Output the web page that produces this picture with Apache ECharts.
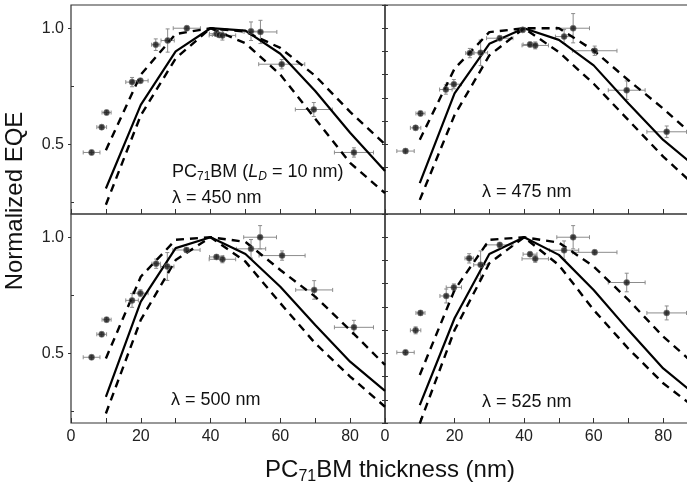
<!DOCTYPE html>
<html><head><meta charset="utf-8">
<script src="https://cdn.jsdelivr.net/npm/echarts@6/dist/echarts.min.js"></script>
<style>html,body{margin:0;padding:0;background:#fff}#c{width:687px;height:487px}</style>
</head><body><div id="c"></div>
<script>
// ---- data ----
const modelX = [10, 20, 30, 40, 50, 60, 70, 80, 90];
const yLabelValues = [0.5, 1.0];
const yMinorValues = [0.25, 0.75];

// lambda = 450 nm
const x450  = [5.9, 8.8, 10.2, 17.5, 19.9, 24.3, 27.7, 33.2, 41.7, 42.5, 43.4, 51.6, 54.3, 60.4, 69.6, 81.1];
const y450  = [0.465, 0.574, 0.637, 0.768, 0.774, 0.929, 0.947, 1.0, 0.976, 0.971, 0.969, 0.987, 0.984, 0.845, 0.650, 0.465];
const xe450 = [2.4, 1.4, 1.3, 1.8, 2.2, 1.2, 1.9, 3.9, 2.0, 2.0, 3.8, 2.5, 4.7, 6.6, 5.3, 5.6];
const ye450 = [0.01, 0.01, 0.01, 0.02, 0.01, 0.025, 0.05, 0.01, 0.01, 0.01, 0.02, 0.04, 0.05, 0.02, 0.03, 0.02];
const solid450 = [0.31, 0.67, 0.90, 1.0, 0.99, 0.89, 0.73, 0.55, 0.385];
const upper450 = [0.475, 0.80, 0.975, 1.0, 0.985, 0.915, 0.795, 0.64, 0.50];
const lower450 = [0.24, 0.625, 0.87, 1.0, 0.935, 0.80, 0.61, 0.42, 0.29];

// lambda = 475 nm
const x475  = [5.9, 8.8, 10.2, 17.5, 19.8, 24.4, 27.5, 33.0, 39.6, 41.7, 43.2, 51.5, 54.1, 60.3, 69.5, 81.0];
const y475  = [0.471, 0.571, 0.633, 0.736, 0.759, 0.893, 0.894, 0.957, 0.993, 0.930, 0.926, 0.964, 1.0, 0.903, 0.733, 0.554];
const xe475 = [2.5, 1.5, 1.3, 1.8, 2.2, 1.2, 2.0, 3.8, 2.0, 2.0, 3.8, 2.5, 4.7, 6.4, 5.3, 5.7];
const ye475 = [0.01, 0.01, 0.01, 0.02, 0.02, 0.02, 0.055, 0.01, 0.01, 0.01, 0.015, 0.03, 0.063, 0.02, 0.04, 0.025];
const solid475 = [0.333, 0.719, 0.933, 1.0, 0.95, 0.84, 0.676, 0.519, 0.395];
const upper475 = [0.52, 0.826, 0.983, 1.0, 1.0, 0.904, 0.776, 0.654, 0.52];
const lower475 = [0.261, 0.626, 0.883, 1.0, 0.897, 0.761, 0.604, 0.447, 0.31];

// lambda = 500 nm
const x500  = [5.9, 8.8, 10.2, 17.5, 19.9, 24.4, 27.6, 33.1, 41.7, 43.4, 51.6, 54.2, 60.5, 69.7, 81.1];
const y500  = [0.483, 0.582, 0.645, 0.728, 0.759, 0.886, 0.874, 0.945, 0.915, 0.905, 0.950, 1.0, 0.921, 0.773, 0.612];
const xe500 = [2.4, 1.4, 1.3, 1.8, 2.2, 1.2, 1.9, 3.9, 2.0, 3.8, 4.2, 4.7, 6.6, 5.3, 5.6];
const ye500 = [0.01, 0.01, 0.01, 0.03, 0.015, 0.02, 0.06, 0.01, 0.01, 0.015, 0.04, 0.05, 0.02, 0.04, 0.03];
const solid500 = [0.313, 0.723, 0.953, 1.0, 0.928, 0.787, 0.622, 0.464, 0.338];
const upper500 = [0.478, 0.83, 0.989, 1.0, 0.98, 0.859, 0.744, 0.60, 0.45];
const lower500 = [0.241, 0.644, 0.902, 1.0, 0.895, 0.716, 0.543, 0.40, 0.27];

// lambda = 525 nm
const x525  = [5.9, 8.8, 10.2, 17.6, 19.8, 24.2, 27.5, 33.0, 41.7, 43.2, 51.5, 54.1, 60.3, 69.5, 81.0];
const y525  = [0.504, 0.599, 0.674, 0.747, 0.784, 0.909, 0.881, 0.967, 0.927, 0.907, 0.944, 1.0, 0.935, 0.805, 0.674];
const xe525 = [2.5, 1.5, 1.3, 1.8, 2.2, 1.2, 2.0, 3.8, 2.0, 3.8, 4.2, 4.7, 6.4, 5.3, 5.7];
const ye525 = [0.01, 0.015, 0.01, 0.03, 0.015, 0.02, 0.06, 0.01, 0.01, 0.015, 0.04, 0.05, 0.01, 0.04, 0.03];
const solid525 = [0.277, 0.651, 0.928, 1.0, 0.924, 0.773, 0.60, 0.435, 0.313];
const upper525 = [0.407, 0.773, 0.989, 1.0, 0.977, 0.874, 0.73, 0.572, 0.44];
const lower525 = [0.198, 0.60, 0.888, 1.0, 0.88, 0.687, 0.52, 0.371, 0.256];

// ---- layout ----
const FONT = "'Liberation Sans', Arial, Helvetica, sans-serif";
const AX = '#333';
const panels = [
  {left: 71,  top: 5,   h: 209, leftSide: true,  bottom: false, x: x450, y: y450, xe: xe450, ye: ye450, s: solid450, u: upper450, l: lower450},
  {left: 385, top: 5,   h: 209, leftSide: false, bottom: false, x: x475, y: y475, xe: xe475, ye: ye475, s: solid475, u: upper475, l: lower475},
  {left: 71,  top: 214, h: 209, leftSide: true,  bottom: true,  x: x500, y: y500, xe: xe500, ye: ye500, s: solid500, u: upper500, l: lower500},
  {left: 385, top: 214, h: 209, leftSide: false, bottom: true,  x: x525, y: y525, xe: xe525, ye: ye525, s: solid525, u: upper525, l: lower525}
];

const grids = [], xAxes = [], yAxes = [], series = [];
const tickStyle = {color: AX, width: 1};
const yBase = {type: 'value', min: 0.2, max: 1.1, axisLine: {show: false}, splitLine: {show: false}};
panels.forEach((p, i) => {
  const w = p.leftSide ? 314 : 313;
  grids.push({left: p.left, top: p.top, width: w, height: p.h, show: true,
    borderColor: AX, borderWidth: 1.2, backgroundColor: 'transparent', containLabel: false, outerBoundsMode: 'none'});
  const xMain = xAxes.length;
  xAxes.push({gridIndex: i, type: 'value', min: 0, max: 90, interval: 10, position: 'bottom',
    axisLine: {show: false}, splitLine: {show: false},
    axisTick: {inside: true, length: 5, lineStyle: tickStyle},
    axisLabel: {show: p.bottom, showMaxLabel: false, margin: 6, fontFamily: FONT, fontSize: 16, color: '#222',
      formatter: v => (v % 20 === 0 && v < 90) ? String(v) : ''}});
  const yMain = yAxes.length;
  if (p.leftSide) {
    // outer left axis: labelled majors pointing out, minors inside
    yAxes.push(Object.assign({gridIndex: i, position: 'left',
      axisTick: {inside: false, length: 3, customValues: yLabelValues, lineStyle: tickStyle},
      axisLabel: {show: true, customValues: yLabelValues, margin: 7, fontFamily: FONT, fontSize: 16, color: '#222',
        formatter: v => Number(v).toFixed(1)}}, yBase));
    yAxes.push(Object.assign({gridIndex: i, position: 'left',
      axisTick: {inside: true, length: 3, customValues: yMinorValues, lineStyle: tickStyle},
      axisLabel: {show: false}}, yBase));
    // shared border: ticks every 0.1
    yAxes.push(Object.assign({gridIndex: i, position: 'right', interval: 0.1,
      axisTick: {inside: true, length: 3, lineStyle: tickStyle}, axisLabel: {show: false}}, yBase));
  } else {
    yAxes.push(Object.assign({gridIndex: i, position: 'left', interval: 0.1,
      axisTick: {inside: true, length: 3, lineStyle: tickStyle}, axisLabel: {show: false}}, yBase));
  }

  // error bars
  series.push({
    type: 'custom', xAxisIndex: xMain, yAxisIndex: yMain, clip: true, z: 2, silent: true,
    data: p.x.map((v, k) => [v, p.y[k], p.xe[k], p.ye[k]]),
    encode: {x: 0, y: 1},
    renderItem: (params, api) => {
      const x = api.value(0), y = api.value(1), dx = api.value(2), dy = api.value(3);
      const L = api.coord([x - dx, y]), R = api.coord([x + dx, y]);
      const T = api.coord([x, y + dy]), B = api.coord([x, y - dy]);
      const st = {stroke: '#8c8c8c', lineWidth: 1};
      const c = 2;
      return {type: 'group', children: [
        {type: 'line', shape: {x1: L[0], y1: L[1], x2: R[0], y2: R[1]}, style: st},
        {type: 'line', shape: {x1: L[0], y1: L[1] - c, x2: L[0], y2: L[1] + c}, style: st},
        {type: 'line', shape: {x1: R[0], y1: R[1] - c, x2: R[0], y2: R[1] + c}, style: st},
        {type: 'line', shape: {x1: T[0], y1: T[1], x2: B[0], y2: B[1]}, style: st},
        {type: 'line', shape: {x1: T[0] - c, y1: T[1], x2: T[0] + c, y2: T[1]}, style: st},
        {type: 'line', shape: {x1: B[0] - c, y1: B[1], x2: B[0] + c, y2: B[1]}, style: st}
      ]};
    }
  });
  const mk = (arr, type, width) => ({
    type: 'line', xAxisIndex: xMain, yAxisIndex: yMain, clip: true, z: 3,
    showSymbol: false, symbol: 'none', silent: true,
    data: modelX.map((x, k) => [x, arr[k]]),
    lineStyle: {color: '#000', width: width, type: type}
  });
  series.push(mk(p.s, 'solid', 2.2));
  series.push(mk(p.u, [8, 6], 2.4));
  series.push(mk(p.l, [8, 6], 2.4));
  series.push({
    type: 'scatter', xAxisIndex: xMain, yAxisIndex: yMain, z: 4, clip: true, silent: true,
    data: p.x.map((v, k) => [v, p.y[k]]), symbolSize: 6,
    itemStyle: {color: '#151515', borderColor: '#777', borderWidth: 0.8}
  });
});

const subRich = {
  n: {fontFamily: FONT, fontSize: 24, lineHeight: 30, fill: '#111'},
  s: {fontFamily: FONT, fontSize: 16, lineHeight: 16, verticalAlign: 'bottom', fill: '#111'}
};
const annRich = {
  n: {fontFamily: FONT, fontSize: 18, lineHeight: 22, fill: '#111'},
  i: {fontFamily: FONT, fontSize: 18, lineHeight: 22, fontStyle: 'italic', fill: '#111'},
  s: {fontFamily: FONT, fontSize: 12, lineHeight: 12, verticalAlign: 'bottom', fill: '#111'},
  si: {fontFamily: FONT, fontSize: 12, lineHeight: 12, verticalAlign: 'bottom', fontStyle: 'italic', fill: '#111'}
};
const ann = (txt, x, y) => ({type: 'text', x: x, y: y, z: 10,
  style: {text: txt, rich: annRich, font: '18px ' + FONT, fill: '#111', align: 'left', verticalAlign: 'middle'}});

const chart = echarts.init(document.getElementById('c'), null, {renderer: 'canvas'});
chart.setOption({
  animation: false,
  backgroundColor: '#fff',
  grid: grids, xAxis: xAxes, yAxis: yAxes, series: series,
  graphic: [
    {type: 'text', x: 15, y: 201, rotation: Math.PI / 2, z: 10,
      style: {text: 'Normalized EQE', font: '24px ' + FONT, fill: '#111', align: 'center', verticalAlign: 'middle'}},
    {type: 'text', x: 390, y: 470, z: 10,
      style: {text: '{n|PC}{s|71}{n|BM thickness (nm)}', rich: subRich, align: 'center', verticalAlign: 'middle'}},
    ann('{n|PC}{s|71}{n|BM (}{i|L}{si|D}{n| = 10 nm)}', 172, 172),
    ann('{n|λ = 450 nm}', 172, 198),
    ann('{n|λ = 475 nm}', 482, 192),
    ann('{n|λ = 500 nm}', 171, 400),
    ann('{n|λ = 525 nm}', 482, 402)
  ]
});
</script>
</body></html>
